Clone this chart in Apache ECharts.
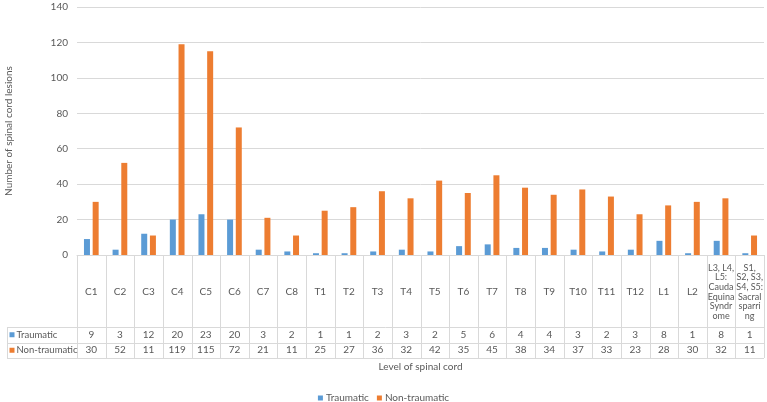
<!doctype html>
<html>
<head>
<meta charset="utf-8">
<title>Spinal cord lesions</title>
<script src="https://cdn.jsdelivr.net/npm/echarts@6/dist/echarts.min.js"></script>
<style>
  html, body { margin: 0; padding: 0; background: #fff; }
  #chart { width: 767px; height: 402px; }
</style>
</head>
<body>
<div id="chart"></div>
<script>
// category labels wrapped the way the original table cell shows them
var categories = ['C1', 'C2', 'C3', 'C4', 'C5', 'C6', 'C7', 'C8',
    'T1', 'T2', 'T3', 'T4', 'T5', 'T6', 'T7', 'T8', 'T9', 'T10', 'T11', 'T12',
    'L1', 'L2',
    'L3, L4,\nL5:\nCauda\nEquina\nSyndr\nome',
    'S1,\nS2, S3,\nS4, S5:\nSacral\nsparri\nng'];
var traumatic = [9, 3, 12, 20, 23, 20, 3, 2, 1, 1, 2, 3, 2, 5, 6, 4, 4, 3, 2, 3, 8, 1, 8, 1];
var nonTraumatic = [30, 52, 11, 119, 115, 72, 21, 11, 25, 27, 36, 32, 42, 35, 45, 38, 34, 37, 33, 23, 28, 30, 32, 11];
var seriesNames = ['Traumatic', 'Non-traumatic'];
var seriesColors = ['#5B9BD5', '#ED7D31'];

var font = 'Lato, "Open Sans", sans-serif';
var textColor = '#595959';
var lineColor = '#d9d9d9';

var myChart = echarts.init(document.getElementById('chart'));

var option = {
    animation: false,
    textStyle: { fontFamily: font },
    grid: { left: 77, right: 3, top: 7, bottom: 147, outerBoundsMode: 'none' },
    legend: {
        data: seriesNames,
        left: 'center',
        top: 388,
        icon: 'rect',
        itemWidth: 5,
        itemHeight: 5,
        itemGap: 8,
        textStyle: { fontSize: 10, color: textColor, fontFamily: font, padding: [0, 0, 0, -2] }
    },
    xAxis: {
        type: 'category',
        data: categories,
        name: 'Level of spinal cord',
        nameLocation: 'middle',
        nameGap: 112,
        nameTextStyle: { fontSize: 10, color: textColor, verticalAlign: 'middle' },
        axisLine: { lineStyle: { color: lineColor } },
        axisTick: { show: false },
        axisLabel: {
            interval: 0,
            margin: 37,
            fontSize: 10,
            color: textColor,
            verticalAlign: 'middle',
            formatter: function (v) {
                // wrapped cells use a slightly smaller face so they stay inside the column
                return v.indexOf('\n') >= 0 ? '{w|' + v + '}' : v;
            },
            rich: {
                w: { fontSize: 9, lineHeight: 9.7, color: textColor, fontFamily: font }
            }
        }
    },
    yAxis: {
        type: 'value',
        min: 0,
        max: 140,
        interval: 20,
        name: 'Number of spinal cord lesions',
        nameLocation: 'middle',
        nameGap: 63,
        nameTextStyle: { fontSize: 10, color: textColor },
        axisLine: { show: false },
        axisTick: { show: false },
        axisLabel: { fontSize: 10, color: textColor, margin: 9 },
        splitLine: { lineStyle: { color: lineColor } }
    },
    series: [
        {
            name: seriesNames[0],
            type: 'bar',
            data: traumatic,
            barWidth: 6,
            barGap: '45%',
            itemStyle: { color: seriesColors[0] }
        },
        {
            name: seriesNames[1],
            type: 'bar',
            data: nonTraumatic,
            barWidth: 6,
            barGap: '45%',
            itemStyle: { color: seriesColors[1] }
        }
    ]
};

myChart.setOption(option);

// data table under the axis, placed from the axis scale
function buildTable() {
    var x0 = myChart.convertToPixel({ xAxisIndex: 0 }, 0);
    var x1 = myChart.convertToPixel({ xAxisIndex: 0 }, 1);
    var band = x1 - x0;
    var left = x0 - band / 2;
    var right = left + band * categories.length;
    var top = myChart.convertToPixel({ yAxisIndex: 0 }, 0);
    var rowTop = top + 72;
    var rowH = 15.5;
    var bottom = rowTop + rowH * 2;
    var headLeft = 7;
    var els = [];
    var ls = { stroke: lineColor, lineWidth: 1 };

    for (var i = 0; i <= categories.length; i++) {
        var x = Math.round(left + i * band) + 0.5;
        els.push({ type: 'line', shape: { x1: x, y1: top, x2: x, y2: bottom }, style: ls, silent: true });
    }
    for (var r = 0; r <= 2; r++) {
        var y = Math.round(rowTop + r * rowH) + 0.5;
        els.push({ type: 'line', shape: { x1: headLeft, y1: y, x2: right, y2: y }, style: ls, silent: true });
    }
    els.push({ type: 'line', shape: { x1: headLeft + 0.5, y1: rowTop, x2: headLeft + 0.5, y2: bottom }, style: ls, silent: true });

    var rows = [traumatic, nonTraumatic];
    for (var r = 0; r < rows.length; r++) {
        var cy = rowTop + rowH * r + rowH / 2;
        els.push({ type: 'rect', shape: { x: headLeft + 2.5, y: cy - 2.5, width: 5, height: 5 },
            style: { fill: seriesColors[r] }, silent: true });
        els.push({ type: 'text', x: headLeft + 9.5, y: cy,
            style: { text: seriesNames[r], fontSize: 9.5, fontFamily: font, fill: textColor,
                align: 'left', verticalAlign: 'middle' }, silent: true });
        for (var i = 0; i < rows[r].length; i++) {
            els.push({ type: 'text', x: left + band * (i + 0.5), y: cy,
                style: { text: String(rows[r][i]), fontSize: 10, fontFamily: font, fill: textColor,
                    align: 'center', verticalAlign: 'middle' }, silent: true });
        }
    }
    myChart.setOption({ graphic: els });
}
buildTable();
</script>
</body>
</html>
